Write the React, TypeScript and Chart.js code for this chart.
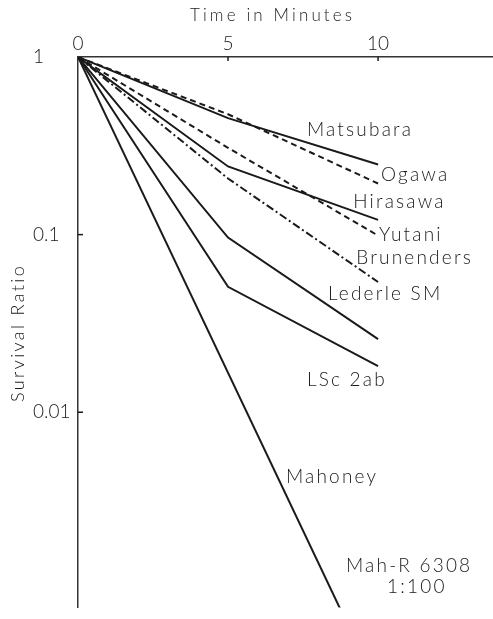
import React, { useEffect, useRef } from "react";
import { Chart, registerables } from "chart.js";

Chart.register(...registerables);

// ---- data ----
const timeMinutes = [0, 5, 10];
const matsubara = [1, 0.453, 0.248];
const ogawa = [1, 0.476, 0.194];
const hirasawa = [1, 0.242, 0.121];
const yutani = [1, 0.308, 0.0987];
const brunenders = [1, 0.207, 0.0541];
const lederleSM = [1, 0.0962, 0.0258];
const lsc2ab = [1, 0.0508, 0.0182];
const mahoneyTimes = [0, 10];
const mahoney = [1, 0.000278];

const xTicks = [0, 5, 10];
const xTickLabels = ["0", "5", "10"];
const yTicks = [1, 0.1, 0.01];
const yTickLabels = ["1", "0.1", "0.01"];

const xTitle = "Time in Minutes";
const yTitle = "Survival Ratio";

// label texts and their anchors in data space (minutes, survival ratio)
const labelTexts = ["Matsubara", "Ogawa", "Hirasawa", "Yutani", "Brunenders", "Lederle SM", "LSc 2ab", "Mahoney", "Mah-R 6308", "1:100"];
const labelAtX = [7.63, 10.1, 9.17, 10.03, 9.27, 8.33, 7.63, 6.93, 8.93, 10.3];
const labelAtY = [0.388, 0.218, 0.1526, 0.1, 0.0736, 0.0464, 0.01525, 0.0043, 0.00136, 0.00104];

const FONT = "Lato, 'DejaVu Sans', sans-serif";
const INK = "#1a1a1a";

const pts = (xs: number[], ys: number[]) => xs.map((x, i) => ({ x, y: ys[i] }));

const line = (label: string, data: { x: number; y: number }[], dash: number[]) => ({
  label,
  data,
  borderColor: INK,
  borderWidth: 2,
  borderDash: dash,
  pointRadius: 0,
  fill: false,
  tension: 0,
});

// draw text stretched (via letter spacing) to a given visual length, centred at (0,0)
function spacedCentered(ctx: CanvasRenderingContext2D, text: string, length: number) {
  (ctx as any).letterSpacing = "0px";
  const w = ctx.measureText(text).width;
  const sp = Math.max(0, (length - w) / Math.max(1, text.length - 1));
  (ctx as any).letterSpacing = `${sp}px`;
  ctx.textAlign = "left";
  ctx.fillText(text, -length / 2, 0);
}

const textPlugin = {
  id: "textPlugin",
  afterDraw(chart: any) {
    const ctx = chart.ctx as CanvasRenderingContext2D;
    const xs = chart.scales.x;
    const ys = chart.scales.y;
    const area = chart.chartArea;
    ctx.save();
    // inward tick marks
    ctx.strokeStyle = INK;
    ctx.lineWidth = 1.5;
    xTicks.forEach((v) => {
      if (v === 0) return;
      const px = xs.getPixelForValue(v);
      ctx.beginPath();
      ctx.moveTo(px, area.top);
      ctx.lineTo(px, area.top + 4);
      ctx.stroke();
    });
    yTicks.forEach((v) => {
      if (v === 1) return;
      const py = ys.getPixelForValue(v);
      ctx.beginPath();
      ctx.moveTo(area.left, py);
      ctx.lineTo(area.left + 5, py);
      ctx.stroke();
    });
    ctx.fillStyle = INK;
    ctx.textBaseline = "middle";
    // axis titles
    ctx.save();
    ctx.translate(271, 16);
    ctx.font = `300 17px ${FONT}`;
    spacedCentered(ctx, xTitle, 162);
    ctx.restore();
    ctx.save();
    ctx.translate(18, 334);
    ctx.rotate(-Math.PI / 2);
    ctx.font = `300 18px ${FONT}`;
    spacedCentered(ctx, yTitle, 136);
    ctx.restore();
    // series labels
    (ctx as any).letterSpacing = "2.2px";
    ctx.font = `300 19px ${FONT}`;
    ctx.textAlign = "left";
    labelTexts.forEach((t, i) => {
      const px = xs.getPixelForValue(labelAtX[i]);
      const py = ys.getPixelForValue(labelAtY[i]);
      ctx.fillText(t, px, py);
    });
    ctx.restore();
  },
};

export default function App() {
  const ref = useRef<HTMLCanvasElement | null>(null);
  useEffect(() => {
    if (!ref.current) return;
    const chart = new Chart(ref.current, {
      type: "line",
      data: {
        datasets: [
          line("Matsubara", pts(timeMinutes, matsubara), []),
          line("Ogawa", pts(timeMinutes, ogawa), [6, 4]),
          line("Hirasawa", pts(timeMinutes, hirasawa), []),
          line("Yutani", pts(timeMinutes, yutani), [6, 4]),
          line("Brunenders", pts(timeMinutes, brunenders), [8, 3, 2, 3]),
          line("Lederle SM", pts(timeMinutes, lederleSM), []),
          line("LSc 2ab", pts(timeMinutes, lsc2ab), []),
          line("Mahoney", pts(mahoneyTimes, mahoney), []),
        ],
      },
      options: {
        responsive: false,
        animation: false,
        layout: { padding: { left: 33, top: 0, right: 0, bottom: 4 } },
        plugins: { legend: { display: false }, tooltip: { enabled: false }, title: { display: false } },
        scales: {
          x: {
            type: "linear",
            position: "top",
            min: 0,
            max: 13.83,
            afterBuildTicks: (s: any) => {
              s.ticks = xTicks.map((v) => ({ value: v }));
            },
            afterFit: (s: any) => {
              s.height = 57;
            },
            ticks: {
              autoSkip: false,
              maxRotation: 0,
              padding: 2,
              color: INK,
              font: { family: FONT, size: 19, weight: "300" },
              callback: (_v: any, i: number) => xTickLabels[i],
            },
            grid: { display: false, drawTicks: false },
            border: { display: true, color: "#333", width: 1.5 },
          },
          y: {
            type: "logarithmic",
            min: Math.pow(10, -3.1),
            max: 1,
            afterBuildTicks: (s: any) => {
              s.ticks = yTicks.map((v) => ({ value: v }));
            },
            afterFit: (s: any) => {
              s.width = 45;
            },
            ticks: {
              autoSkip: false,
              crossAlign: "far",
              padding: 0,
              color: INK,
              font: { family: FONT, size: 19, weight: "300" },
              callback: (_v: any, i: number) => yTickLabels[i],
            },
            grid: { display: false, drawTicks: false },
            border: { display: true, color: "#333", width: 1.5 },
          },
        },
      },
      plugins: [textPlugin],
    });
    return () => chart.destroy();
  }, []);
  return (
    <div style={{ position: "absolute", left: 0, top: 0, width: 493, height: 619, background: "#fff" }}>
      <canvas ref={ref} width={493} height={619} style={{ width: 493, height: 619 }} />
    </div>
  );
}
